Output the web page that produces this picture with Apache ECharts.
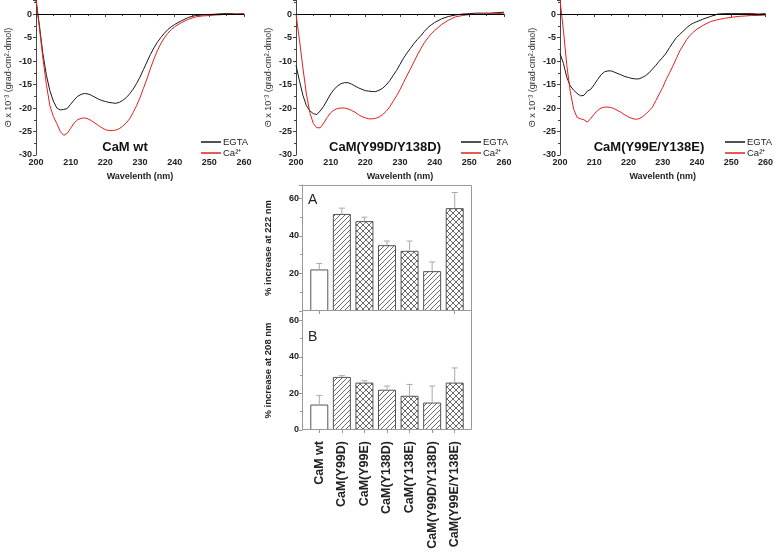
<!DOCTYPE html>
<html>
<head>
<meta charset="utf-8">
<script src="https://cdn.jsdelivr.net/npm/echarts@6/dist/echarts.min.js"></script>
<style>
  html, body { margin: 0; padding: 0; background: #fff; }
  #main { width: 776px; height: 554px; }
</style>
</head>
<body>
<div id="main"></div>
<script>
// wavelengths (nm)
const wavelength = [200, 201, 202, 203, 204, 205, 206, 207, 208, 209, 210, 211, 212, 213, 214, 215, 216, 217, 218, 219, 220,
    221, 222, 223, 224, 225, 226, 227, 228, 229, 230, 231, 232, 233, 234, 235, 236, 237, 238, 239, 240,
    242, 244, 246, 248, 250, 252, 254, 256, 258, 260];

// CaM wt
const wtEgta = [3, -2.5, -8.5, -13, -16.3, -18.5, -20, -20.4, -20.3, -20.1, -19.2, -18.3, -17.5, -17.1, -16.9, -17, -17.3, -17.7, -18.1, -18.4, -18.6,
    -18.8, -18.9, -19.0, -18.8, -18.4, -17.8, -17.0, -16.0, -14.8, -13.4, -11.8, -10.2, -8.6, -7.2, -6.0, -5.0, -4.1, -3.3, -2.7, -2.2,
    -1.4, -0.7, -0.3, -0.2, -0.1, 0, 0.1, 0.1, 0, 0.1];
const wtCa = [3, -3, -9.5, -15, -19.5, -21.8, -23.3, -25.0, -25.8, -25.4, -24.3, -23.2, -22.5, -22.2, -22.1, -22.3, -22.7, -23.2, -23.7, -24.2, -24.6,
    -24.8, -24.8, -24.7, -24.4, -23.9, -23.2, -22.3, -21.0, -19.5, -17.8, -15.8, -13.8, -11.6, -9.6, -7.8, -6.3, -5.1, -4.1, -3.3, -2.7,
    -1.8, -1.1, -0.6, -0.4, -0.3, -0.2, -0.1, 0, 0, 0.1];

// CaM(Y99D/Y138D)
const ddEgta = [-10.9, -14.2, -17.3, -19.5, -20.6, -21.2, -21.4, -20.6, -19.6, -18.3, -17.0, -16.0, -15.3, -14.8, -14.6, -14.6, -14.9, -15.3, -15.7, -16.0, -16.3,
    -16.4, -16.5, -16.5, -16.2, -15.8, -15.1, -14.2, -13.1, -12.0, -10.7, -9.4, -8.3, -7.3, -6.3, -5.4, -4.6, -3.7, -2.9, -2.3, -1.8,
    -1.0, -0.5, -0.2, 0, 0.1, 0.2, 0.2, 0.2, 0.3, 0.4];
const ddCa = [0, -5.5, -11.5, -17, -21, -23.3, -24.2, -24.2, -23.2, -22.0, -21.0, -20.4, -20.1, -20.0, -20.0, -20.2, -20.5, -20.9, -21.4, -21.8, -22.1,
    -22.3, -22.3, -22.2, -21.9, -21.4, -20.7, -19.8, -18.6, -17.4, -16.1, -14.6, -13.1, -11.7, -10.2, -8.7, -7.4, -6.1, -5.1, -4.2, -3.5,
    -2.2, -1.3, -0.6, -0.3, -0.1, 0, 0, 0.1, 0.1, 0.2];

// CaM(Y99E/Y138E)
const eeEgta = [-8.4, -10.5, -13.5, -15.3, -16.2, -16.9, -17.4, -17.3, -16.4, -16.0, -15.0, -13.9, -12.9, -12.3, -12.1, -12.1, -12.4, -12.7, -13.0, -13.3, -13.5,
    -13.7, -13.8, -13.8, -13.5, -13.1, -12.5, -11.7, -10.9, -10.0, -9.2, -8.3, -7.1, -6.0, -5.0, -4.3, -3.6, -2.9, -2.3, -1.9, -1.6,
    -1.0, -0.5, 0, 0.1, 0.1, 0.1, 0.1, 0.1, 0, 0.1];
const eeCa = [3, -3.5, -11, -16.5, -20.3, -22.0, -22.3, -22.5, -23.0, -22.2, -21.3, -20.5, -20.0, -19.8, -19.8, -19.9, -20.2, -20.6, -21.0, -21.5, -21.9,
    -22.2, -22.4, -22.3, -21.9, -21.3, -20.6, -19.8, -18.4, -17.0, -15.6, -13.9, -12.5, -11.0, -9.4, -7.8, -6.6, -5.4, -4.5, -3.8, -3.2,
    -2.3, -1.6, -1.2, -0.9, -0.7, -0.5, -0.4, -0.3, -0.3, -0.2];

const panelTitles = ['CaM wt', 'CaM(Y99D/Y138D)', 'CaM(Y99E/Y138E)'];

// bar panels
const categories = ['CaM wt', 'CaM(Y99D)', 'CaM(Y99E)', 'CaM(Y138D)', 'CaM(Y138E)', 'CaM(Y99D/Y138D)', 'CaM(Y99E/Y138E)'];
const inc222 = [22.1, 51.6, 47.8, 35.0, 32.0, 21.2, 54.7];
const err222 = [3.2, 3.1, 2.1, 2.2, 5.2, 4.9, 8.3];
const inc208 = [13.9, 29.0, 25.9, 22.0, 18.7, 15.0, 25.9];
const err208 = [5.0, 0.7, 1.0, 2.0, 6.2, 9.0, 8.0];

const FONT = 'Liberation Sans, Arial, sans-serif';

function makePattern(cross) {
    const s = cross ? 6 : 5;
    const cv = document.createElement('canvas');
    cv.width = s; cv.height = s;
    const g = cv.getContext('2d');
    g.fillStyle = '#fff';
    g.fillRect(0, 0, s, s);
    g.strokeStyle = '#444';
    g.lineWidth = 0.8;
    g.beginPath();
    g.moveTo(-1, s + 1); g.lineTo(s + 1, -1);
    g.moveTo(-1, 1); g.lineTo(1, -1);
    g.moveTo(s - 1, s + 1); g.lineTo(s + 1, s - 1);
    if (cross) {
        g.moveTo(-1, -1); g.lineTo(s + 1, s + 1);
        g.moveTo(s - 1, -1); g.lineTo(s + 1, 1);
        g.moveTo(-1, s - 1); g.lineTo(1, s + 1);
    }
    g.stroke();
    return cv;
}
const hatch = { image: makePattern(false), repeat: 'repeat' };
const cross = { image: makePattern(true), repeat: 'repeat' };
function fillFor(i) {
    if (i === 0) return '#fff';
    return i % 2 === 1 ? hatch : cross;
}

const specLeft = [36, 296, 560];
const grids = specLeft.map(l => ({ left: l, top: 0, width: 208, height: 155 }));
grids.push({ left: 308, top: 185, width: 158, height: 126 });
grids.push({ left: 308, top: 311, width: 158, height: 119 });

const tickLabel = { fontSize: 9, fontWeight: 'bold', color: '#222', fontFamily: FONT };

const xAxes = [], yAxes = [], series = [], legends = [], graphics = [];
const specData = [[wtEgta, wtCa], [ddEgta, ddCa], [eeEgta, eeCa]];

specLeft.forEach((l, k) => {
    xAxes.push({
        gridIndex: k, type: 'value', min: 200, max: 260, interval: 10,
        axisLine: { lineStyle: { color: '#444' } },
        axisTick: { length: 3, lineStyle: { color: '#444' } },
        minorTick: { show: true, splitNumber: 2, length: 2, lineStyle: { color: '#444' } },
        splitLine: { show: false },
        axisLabel: Object.assign({ margin: 3 }, tickLabel),
        name: 'Wavelenth (nm)', nameLocation: 'middle', nameGap: 17,
        nameTextStyle: { fontSize: 9, fontWeight: 'bold', color: '#222', fontFamily: FONT }
    });
    yAxes.push({
        gridIndex: k, type: 'value', min: -30, max: 3, interval: 5,
        axisLine: { show: true, lineStyle: { color: '#444' } },
        axisTick: { show: true, length: 3, lineStyle: { color: '#444' } },
        minorTick: { show: true, splitNumber: 2, length: 2, lineStyle: { color: '#444' } },
        splitLine: { show: false },
        axisLabel: Object.assign({ margin: 4, showMaxLabel: false }, tickLabel),
        name: 'Θ x 10⁻³ (grad·cm²·dmol)', nameLocation: 'middle', nameGap: 23,
        nameTextStyle: { fontSize: 9, color: '#333', fontFamily: FONT }
    });
    const pair = specData[k];
    series.push({
        name: 'EGTA', type: 'line', xAxisIndex: k, yAxisIndex: k, showSymbol: false, symbol: 'none',
        color: '#1a1a1a', lineStyle: { color: '#1a1a1a', width: 1 }, clip: true,
        data: wavelength.map((w, i) => [w, pair[0][i]]),
        markLine: {
            silent: true, symbol: 'none', label: { show: false },
            lineStyle: { color: '#000', width: 1, type: 'solid' },
            data: [{ yAxis: 0 }]
        }
    });
    series.push({
        name: 'Ca²⁺', type: 'line', xAxisIndex: k, yAxisIndex: k, showSymbol: false, symbol: 'none',
        color: '#e3201b', lineStyle: { color: '#e3201b', width: 1 }, clip: true,
        data: wavelength.map((w, i) => [w, pair[1][i]])
    });
    legends.push({
        data: ['EGTA', 'Ca²⁺'], orient: 'vertical', left: l + 160, top: 132,
        icon: 'rect', itemWidth: 20, itemHeight: 1.5, itemGap: 1, selectedMode: false,
        textStyle: { fontSize: 9.5, color: '#222', fontFamily: FONT, padding: [0, 0, 0, -3] }
    });
    graphics.push({
        type: 'text', x: l + 89, y: 147,
        style: { text: panelTitles[k], font: 'bold 13px ' + FONT, fill: '#111', align: 'center', verticalAlign: 'middle' }
    });
});

// bar panels A (index 3) and B (index 4)
const barPanels = [
    { vals: inc222, errs: err222, max: 67, name: '% increase at 222 nm', label: 'A' },
    { vals: inc208, errs: err208, max: 65, name: '% increase at 208 nm', label: 'B' }
];
barPanels.forEach((p, j) => {
    const k = 3 + j;
    xAxes.push({
        gridIndex: k, type: 'category', data: categories,
        axisLine: { show: false },
        axisTick: { show: true, alignWithLabel: true, length: 3, lineStyle: { color: '#999' } },
        axisLabel: j === 0 ? { show: false } :
            { rotate: 90, margin: 11, fontSize: 12.5, fontWeight: 'bold', color: '#222', fontFamily: FONT, interval: 0 }
    });
    yAxes.push({
        gridIndex: k, type: 'value', min: 0, max: p.max, interval: 20, offset: 6,
        axisLine: { show: true, lineStyle: { color: '#999' } },
        axisTick: { show: true, length: 3, lineStyle: { color: '#999' } },
        minorTick: { show: true, splitNumber: 2, length: 2, lineStyle: { color: '#999' } },
        splitLine: { show: false },
        axisLabel: Object.assign({ margin: 3, showMaxLabel: false, showMinLabel: j === 1 }, tickLabel),
        name: p.name, nameLocation: 'middle', nameGap: 29,
        nameTextStyle: { fontSize: 9.5, fontWeight: 'bold', color: '#222', fontFamily: FONT }
    });
    series.push({
        type: 'bar', xAxisIndex: k, yAxisIndex: k, barWidth: 18,
        data: p.vals.map((v, i) => ({
            value: v,
            itemStyle: { color: fillFor(i), borderColor: '#555', borderWidth: 1 }
        }))
    });
    series.push({
        type: 'custom', xAxisIndex: k, yAxisIndex: k, z: 3,
        encode: { x: 0, y: [1, 2] },
        data: p.vals.map((v, i) => [i, v, v + p.errs[i]]),
        renderItem: function (params, api) {
            const base = api.coord([api.value(0), api.value(1)]);
            const top = api.coord([api.value(0), api.value(2)]);
            const st = { stroke: '#aaa', lineWidth: 1 };
            return {
                type: 'group',
                children: [
                    { type: 'line', shape: { x1: top[0], y1: base[1], x2: top[0], y2: top[1] }, style: st },
                    { type: 'line', shape: { x1: top[0] - 3, y1: top[1], x2: top[0] + 3, y2: top[1] }, style: st }
                ]
            };
        }
    });
    graphics.push({
        type: 'text', x: 308, y: j === 0 ? 193 : 330,
        style: { text: p.label, font: '14px ' + FONT, fill: '#222' }
    });
});

// frame round the bar panels
graphics.push({
    type: 'rect', z: 10, silent: true,
    shape: { x: 302.5, y: 185.5, width: 169, height: 244 },
    style: { fill: 'none', stroke: '#999', lineWidth: 1 }
});
graphics.push({
    type: 'line', z: 10, silent: true,
    shape: { x1: 302.5, y1: 310.5, x2: 471.5, y2: 310.5 },
    style: { stroke: '#999', lineWidth: 1 }
});

const chart = echarts.init(document.getElementById('main'));
chart.setOption({
    animation: false,
    backgroundColor: '#fff',
    textStyle: { fontFamily: FONT },
    grid: grids,
    xAxis: xAxes,
    yAxis: yAxes,
    legend: legends,
    graphic: graphics,
    series: series
});
</script>
</body>
</html>
